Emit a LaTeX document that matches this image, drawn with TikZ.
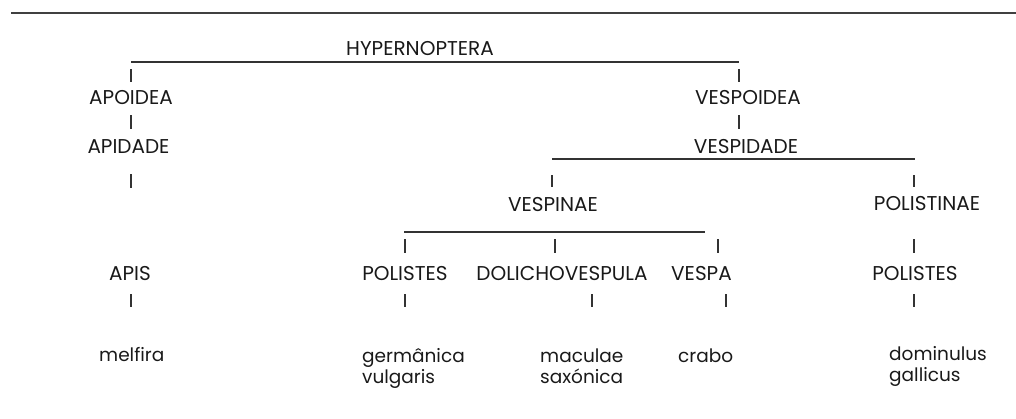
\documentclass[tikz,border=0pt]{standalone}
\usepackage{fontspec}
\setmainfont{Poppins}
\begin{document}
\begin{tikzpicture}[x=1pt,y=-1pt,
  caps/.style={inner sep=0pt,anchor=base,font=\fontsize{20}{21}\selectfont,text=black!90},
  lower/.style={inner sep=0pt,anchor=base west,align=left,font=\fontsize{18.5}{21}\selectfont,text=black!90},
  branch/.style={line width=1.1pt,draw=black!80},
  tick/.style={line width=1.1pt,draw=black!80},
  rule/.style={line width=2pt,draw=black!75}]
\useasboundingbox (0,0) rectangle (1016,418);
% top rule
\coordinate (r1) at (11,13);
\coordinate (r2) at (1016,13);
\draw[rule] (r1) -- (r2);
% texts
\node[caps] (hyp) at (420,55) {HYPERNOPTERA};
\node[caps] (apoidea) at (131,104) {APOIDEA};
\node[caps] (apidade) at (128.5,153) {APIDADE};
\node[caps] (vespoidea) at (748,104.5) {VESPOIDEA};
\node[caps] (vespidade) at (746,153) {VESPIDADE};
\node[caps] (vespinae) at (553,211) {VESPINAE};
\node[caps] (polistinae) at (927,210) {POLISTINAE};
\node[caps] (apis) at (130,280) {APIS};
\node[caps] (polistesL) at (405,280) {POLISTES};
\node[caps] (dolicho) at (562,280) {DOLICHOVESPULA};
\node[caps] (vespa) at (701.5,280) {VESPA};
\node[caps] (polistesR) at (915,280) {POLISTES};
% lowercase (multi-line nodes sit on the baseline of their last line)
\node[lower] (melfira) at (99,361) {melfira};
\node[lower] (germ) at (362,383) {germânica\\vulgaris};
\node[lower] (macul) at (540,383) {maculae\\saxónica};
\node[lower] (crabo) at (678,362) {crabo};
\node[lower] (domin) at (889,381) {dominulus\\gallicus};
% bars
\coordinate (b1a) at (131,62); \coordinate (b1b) at (739,62);
\draw[branch] (b1a) -- (b1b);
\coordinate (b2a) at (552,159); \coordinate (b2b) at (915,159);
\draw[branch] (b2a) -- (b2b);
\coordinate (b3a) at (404,232); \coordinate (b3b) at (705,232);
\draw[branch] (b3a) -- (b3b);
% ticks
\foreach \n/\x/\ya/\yb in {t1/131/69/82, t2/739/69/82, t3/131/115/129, t4/739/115/129,
  t5/131/174/188, t6/552/175/187, t7/914/175/187,
  t8/405/239/253, t9/555/239/253, t10/718/239/253, t11/914/239/253,
  t12/131/294/307, t13/405/294/307, t14/592/294/307, t15/726/294/307, t16/914/294/307}{
  \coordinate (\n a) at (\x,\ya);
  \coordinate (\n b) at (\x,\yb);
  \draw[tick] (\n a) -- (\n b);
}
\end{tikzpicture}
\end{document}
